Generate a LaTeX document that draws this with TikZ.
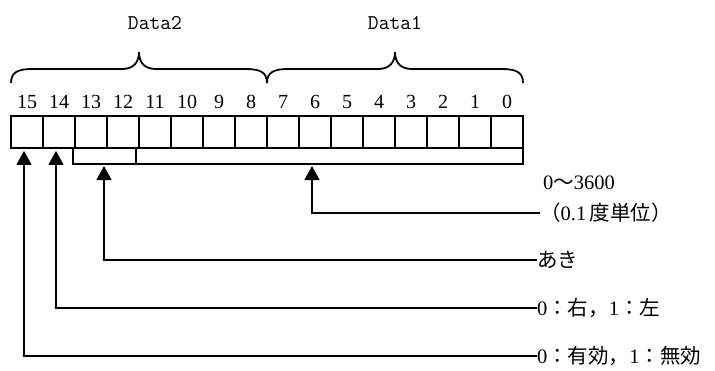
\documentclass[tikz,border=0pt]{standalone}
\usepackage{fontspec}
\setmainfont{Liberation Serif}
\newfontfamily\jp{Noto Sans CJK JP}
\usetikzlibrary{arrows.meta,positioning}

\tikzset{
  cell/.style={draw, line width=1.8pt, minimum width=32pt, minimum height=32pt, inner sep=0pt},
  bitno/.style={inner sep=0pt, font=\fontsize{20}{22}\selectfont},
  note/.style={anchor=west, inner sep=0pt, font=\fontsize{20.5}{22}\selectfont},
  arr/.style={line width=1.8pt, -{Triangle[width=15pt,length=14pt]}}
}

\begin{document}
\begin{tikzpicture}[x=1pt,y=-1pt]
\useasboundingbox (0,0) rectangle (715,370);
%\draw [very thin, gray] (0,0) grid[step=50] (715,370);
% register cells, bit 15 on the left
\foreach \i in {0,...,15}{
  \node[cell] (b\i) at ({507-32*\i},132) {};
  \node[bitno, above=6pt of b\i] (n\i) {\i};
}
% braces
\draw [line width=1.8pt] (11,83) .. controls (11,72) and (18,69) .. (33,69) -- (122,69)
  .. controls (134,69) and (139,62) .. (139,52) .. controls (139,62) and (144,69) .. (156,69)
  -- (245,69) .. controls (260,69) and (267,72) .. (267,83);
\draw [line width=1.8pt] (267,83) .. controls (267,72) and (274,69) .. (289,69) -- (378,69)
  .. controls (390,69) and (395,62) .. (395,52) .. controls (395,62) and (400,69) .. (412,69)
  -- (501,69) .. controls (516,69) and (523,72) .. (523,83);
\node [font=\ttfamily\fontsize{21}{22}\selectfont] (d2) at (155,23) {Data2};
\node [font=\ttfamily\fontsize{21}{22}\selectfont] (d1) at (395,23) {Data1};
% group brackets below the cells
\draw [line width=1.8pt] (73,148) |- (136,164) -- (136,148);
\draw [line width=1.8pt] (136,164) -- (523,164) -- (523,148);
\coordinate (g12) at (104,166);
\coordinate (g6) at (312,166);
% notes
\node[note] (t6a) at (543,183) {0{\jp 〜}3600};
\node[note] (t6) at (540,213) {{\jp （}0.1\,{\jp 度単位）}};
\node[note] (t12) at (537,260) {\jp あき};
\node[note] (t14) at (537,308) {0{\jp ：右，}1{\jp ：左}};
\node[note] (t15) at (537,356) {0{\jp ：有効，}1{\jp ：無効}};
% arrows
\draw[arr] (t6.west) -| (g6);
\draw[arr] (t12.west) -| (g12);
\draw[arr] (t14.west) -| ([xshift=-3pt,yshift=-2pt]b14.south);
\draw[arr] (t15.west) -| ([xshift=-3pt,yshift=-2pt]b15.south);
\end{tikzpicture}
\end{document}
